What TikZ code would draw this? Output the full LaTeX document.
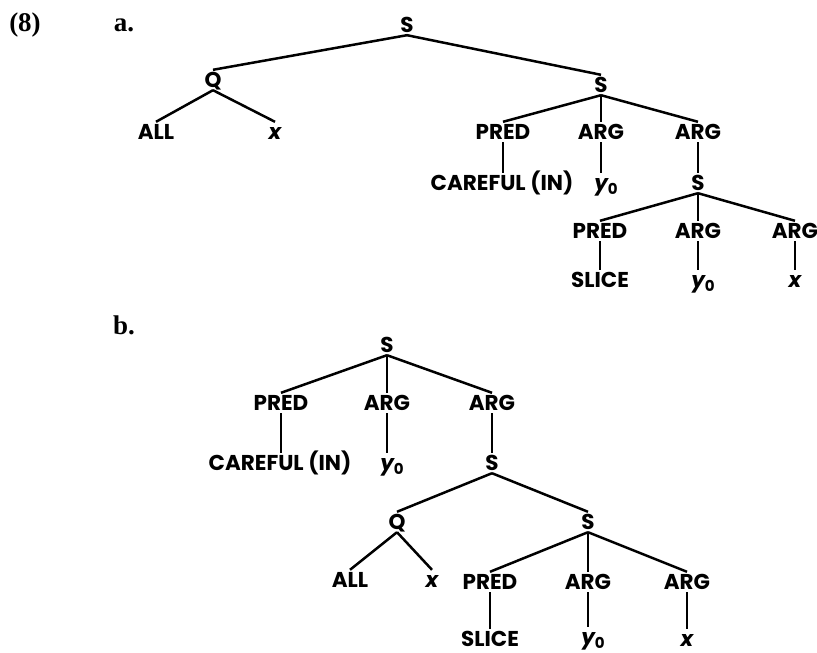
\documentclass[tikz,border=0pt]{standalone}
\usepackage{fontspec}
\setmainfont{Poppins}
\newfontfamily\labfont{Liberation Serif}
\begin{document}
\begin{tikzpicture}[x=1pt,y=-1pt,
  tn/.style={font=\bfseries\fontsize{21.5}{22}\selectfont, inner sep=2pt, text height=15pt, text depth=1pt},
  lab/.style={font=\labfont\bfseries\fontsize{27}{29}\selectfont, inner sep=0pt},
  edge/.style={line width=2.5pt}]
\useasboundingbox (0,0) rectangle (817,653);
\newcommand{\yo}{{\itshape y}\raisebox{-4pt}{\fontsize{15}{15}\selectfont 0}}
% labels
\node[lab] (n8) at (25,25) {(8)};
\node[lab] (la) at (124,25) {a.};
\node[lab] (lb) at (124,325) {b.};
% tree a
\node[tn] (S1) at (407,25) {S};
\node[tn] (Q1) at (213,80) {Q};
\node[tn] (ALL1) at (156,132) {ALL};
\node[tn] (x1) at (275,132) {\itshape x};
\node[tn] (S2) at (601,85) {S};
\node[tn] (PRED1) at (503,132) {PRED};
\node[tn] (ARG1) at (601,132) {ARG};
\node[tn] (ARG2) at (698,132) {ARG};
\node[tn] (CAR1) at (502,183) {CAREFUL (IN)};
\node[tn] (y01) at (606,183) {\yo};
\node[tn] (S3) at (698,183) {S};
\node[tn] (PRED2) at (600,231) {PRED};
\node[tn] (ARG3) at (698,231) {ARG};
\node[tn] (ARG4) at (795,231) {ARG};
\node[tn] (SLICE1) at (600,280) {SLICE};
\node[tn] (y02) at (703,280) {\yo};
\node[tn] (x2) at (795,280) {\itshape x};
\begin{scope}[edge]
\draw (S1.south) -- (Q1.north);
\draw (S1.south) -- (S2.north);
\draw (Q1.south) -- (ALL1.north);
\draw (Q1.south) -- (x1.north);
\draw (S2.south) -- (PRED1.north);
\draw (S2.south) -- (ARG1.north);
\draw (S2.south) -- (ARG2.north);
\draw (PRED1.south) -- (PRED1.south |- CAR1.north);
\draw (ARG1.south) -- (ARG1.south |- y01.north);
\draw (ARG2.south) -- (S3.north);
\draw (S3.south) -- (PRED2.north);
\draw (S3.south) -- (ARG3.north);
\draw (S3.south) -- (ARG4.north);
\draw (PRED2.south) -- (SLICE1.north);
\draw (ARG3.south) -- (ARG3.south |- y02.north);
\draw (ARG4.south) -- (x2.north);
\end{scope}
% tree b
\node[tn] (Sb) at (387,345) {S};
\node[tn] (PREDb) at (281,403) {PRED};
\node[tn] (ARGb) at (387,403) {ARG};
\node[tn] (ARGb2) at (492,403) {ARG};
\node[tn] (CARb) at (280,463) {CAREFUL (IN)};
\node[tn] (y0b) at (392,463) {\yo};
\node[tn] (Sb2) at (492,463) {S};
\node[tn] (Qb) at (397,522) {Q};
\node[tn] (Sb3) at (588,522) {S};
\node[tn] (ALLb) at (350,580) {ALL};
\node[tn] (xb) at (432,580) {\itshape x};
\node[tn] (PREDb2) at (490,582) {PRED};
\node[tn] (ARGb3) at (588,582) {ARG};
\node[tn] (ARGb4) at (687,582) {ARG};
\node[tn] (SLICEb) at (490,639) {SLICE};
\node[tn] (y0b2) at (593,637) {\yo};
\node[tn] (xb2) at (687,639) {\itshape x};
\begin{scope}[edge]
\draw (Sb.south) -- (PREDb.north);
\draw (Sb.south) -- (ARGb.north);
\draw (Sb.south) -- (ARGb2.north);
\draw (PREDb.south) -- (PREDb.south |- CARb.north);
\draw (ARGb.south) -- (ARGb.south |- y0b.north);
\draw (ARGb2.south) -- (Sb2.north);
\draw (Sb2.south) -- (Qb.north);
\draw (Sb2.south) -- (Sb3.north);
\draw (Qb.south) -- (ALLb.north);
\draw (Qb.south) -- (xb.north);
\draw (Sb3.south) -- (PREDb2.north);
\draw (Sb3.south) -- (ARGb3.north);
\draw (Sb3.south) -- (ARGb4.north);
\draw (PREDb2.south) -- (SLICEb.north);
\draw (ARGb3.south) -- (ARGb3.south |- y0b2.north);
\draw (ARGb4.south) -- (xb2.north);
\end{scope}
\end{tikzpicture}
\end{document}
